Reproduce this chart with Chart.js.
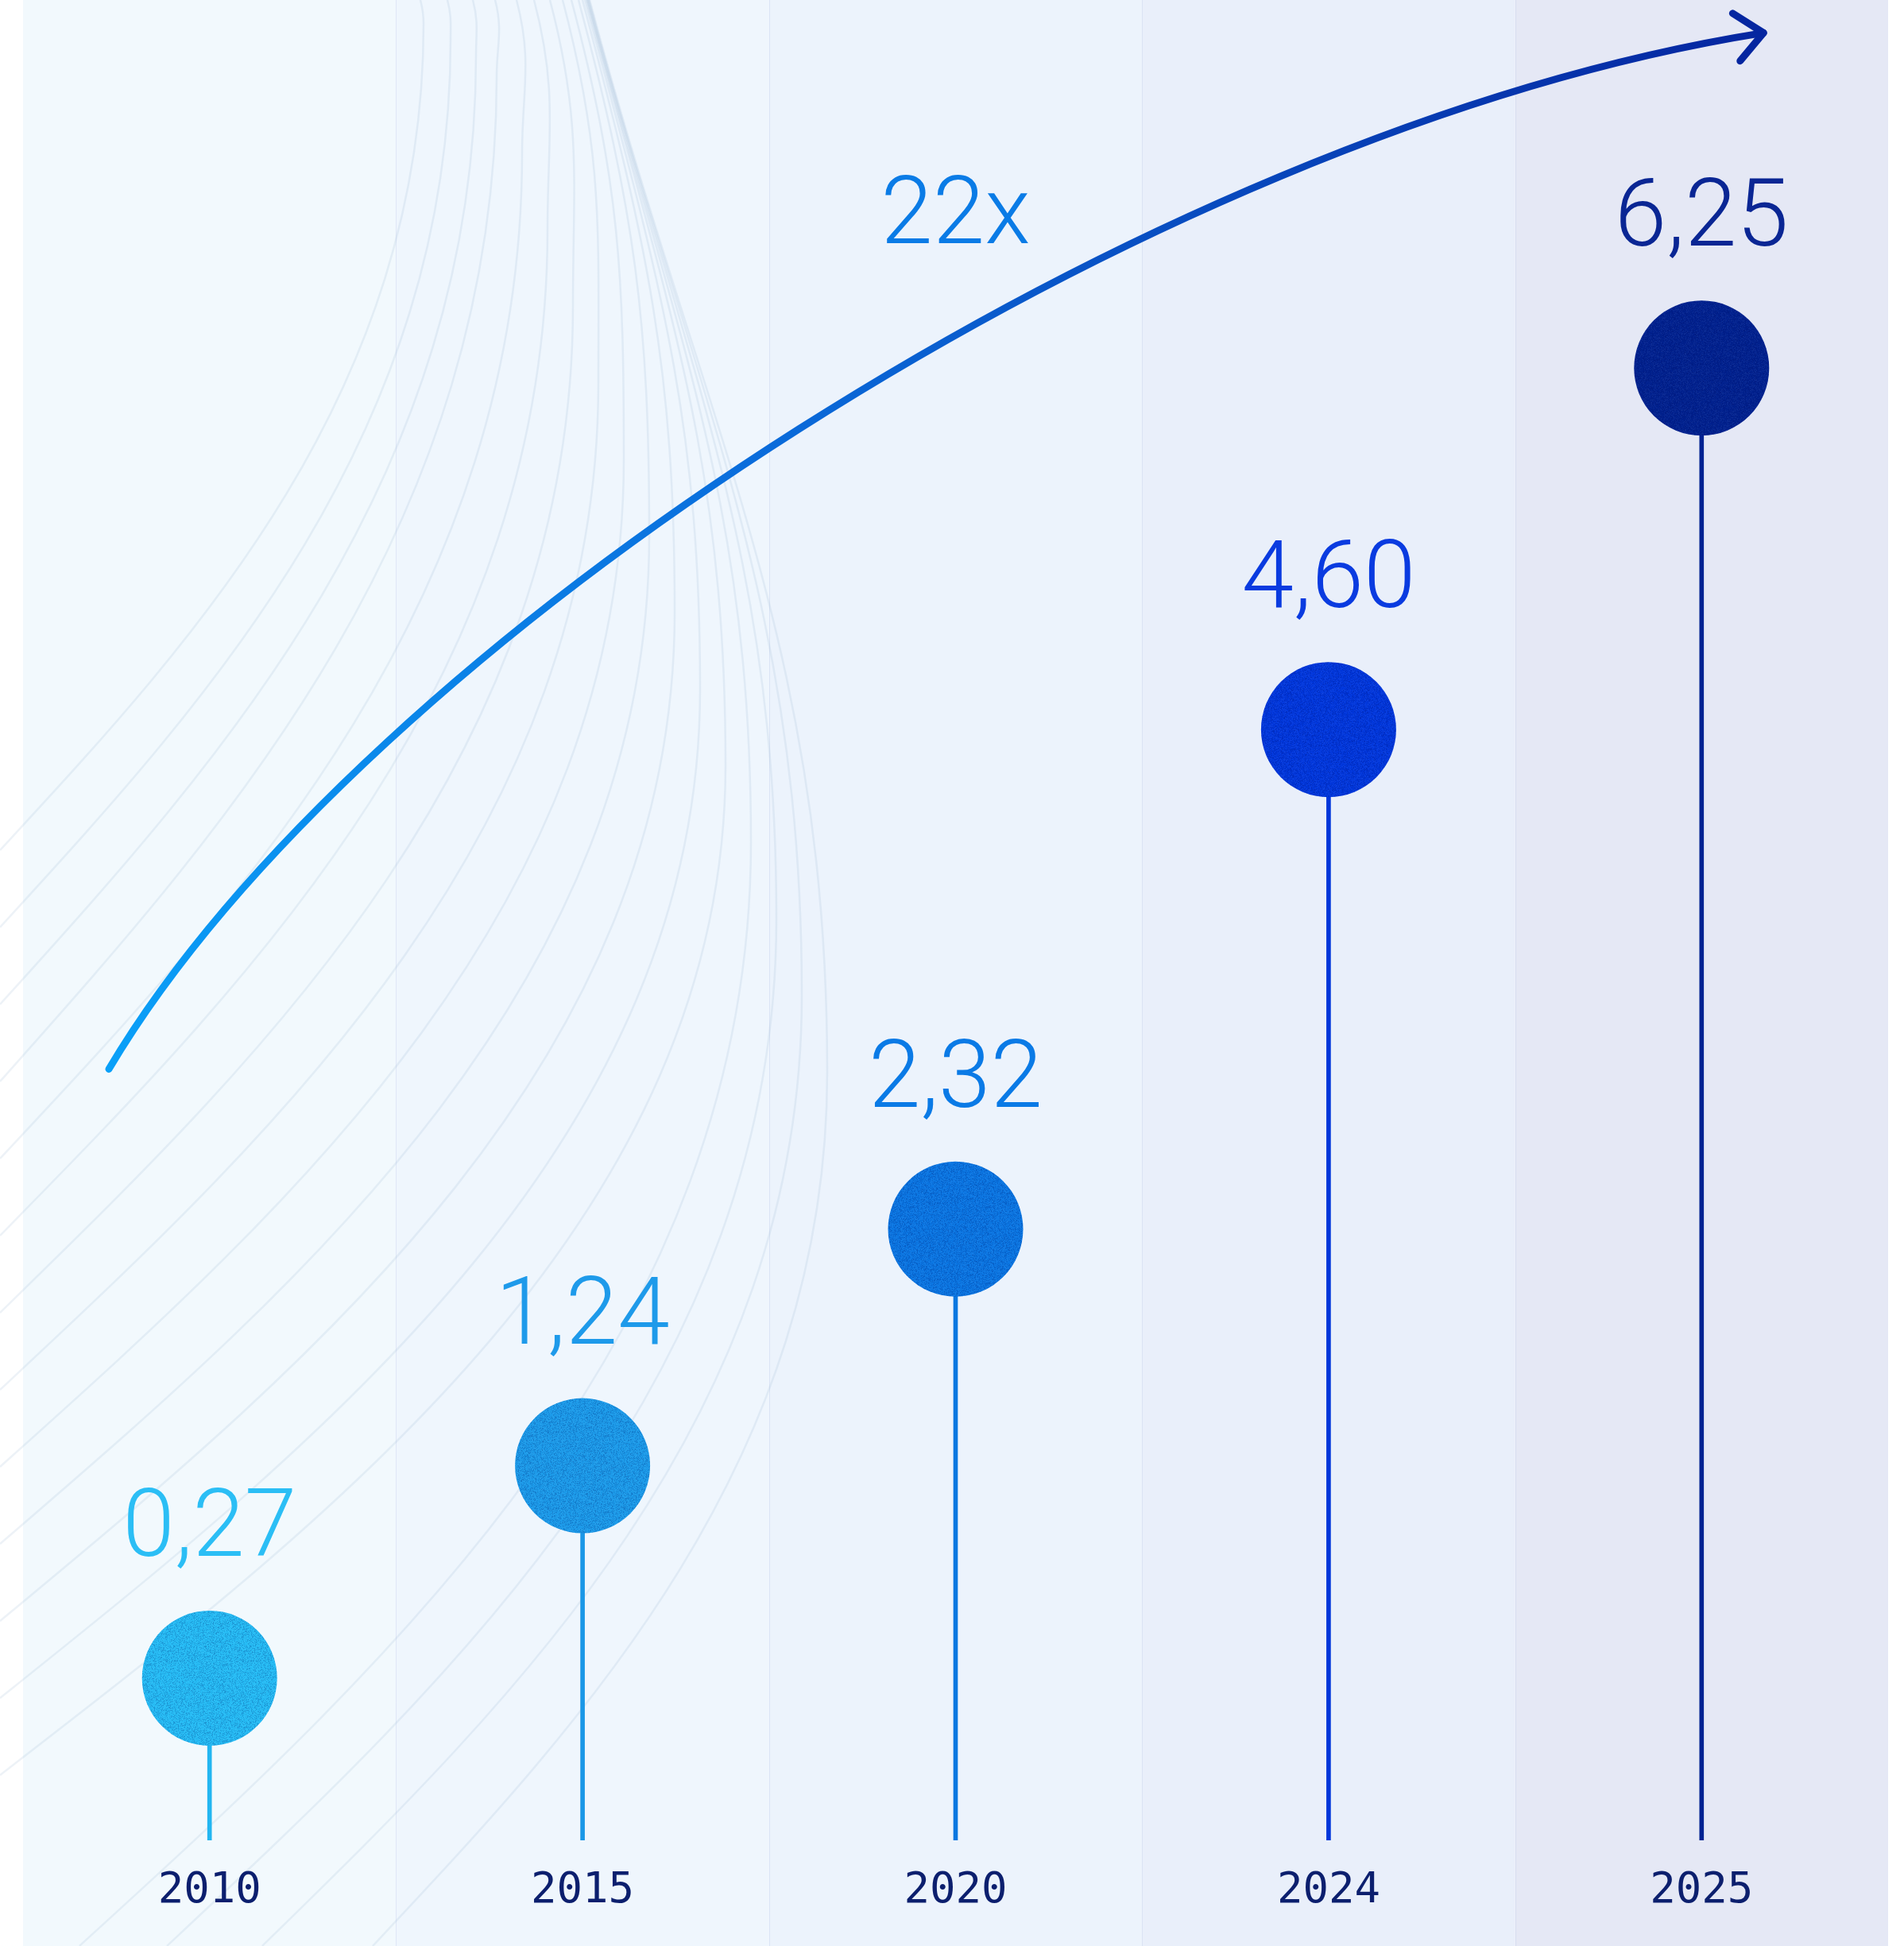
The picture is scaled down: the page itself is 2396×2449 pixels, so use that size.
<!DOCTYPE html>
<html>
<head>
<meta charset="utf-8">
<title>Growth 2010–2025</title>
<script src="https://cdn.jsdelivr.net/npm/chart.js@4.4.1/dist/chart.umd.min.js"></script>
<style>
  html, body { margin: 0; padding: 0; background: #ffffff; }
  canvas { display: block; }
</style>
</head>
<body>
<canvas id="myChart" width="2396" height="2449"></canvas>
<script>
const years = ["2010", "2015", "2020", "2024", "2025"];
const values = [0.27, 1.24, 2.32, 4.60, 6.25];

const dotColors = ["#25bcf5", "#1b9bea", "#0a76e3", "#0037dd", "#00218f"];
const stemColors = ["#22b6f1", "#1a97e7", "#0a77e0", "#0036da", "#002292"];
const labelColors = ["#2bbef5", "#1e9aea", "#0a7ae6", "#0a3be0", "#0a2694"];
const columnColors = ["#f2f9fd", "#eff6fd", "#ecf3fc", "#e9effa", "#e5e8f5"];

const yMin = -0.47;
const yMax = 7.93;

// growth arrow, in category index / value units
const growthText = "22x";
const growthAt = { x: 2, y: 6.82 };
const arrowFrom = { x: -0.27, y: 3.05 };
const arrowCtrl1 = { x: 0.403, y: 4.98 };
const arrowCtrl2 = { x: 2.512, y: 7.335 };
const arrowTo = { x: 4.166, y: 7.78 };

function formatValue(v) {
  return v.toFixed(2).replace(".", ",");
}

// speckle texture for the dots
function makeGrain() {
  const size = 96;
  const c = document.createElement("canvas");
  c.width = c.height = size;
  const g = c.getContext("2d");
  const img = g.createImageData(size, size);
  let seed = 12345;
  for (let i = 0; i < img.data.length; i += 4) {
    seed = (Math.imul(seed, 1664525) + 1013904223) >>> 0;
    const n = seed / 4294967296;
    if (n < 0.5) {
      img.data[i] = 0; img.data[i + 1] = 10; img.data[i + 2] = 90;
      img.data[i + 3] = Math.floor((0.5 - n) * 120);
    } else {
      img.data[i] = 255; img.data[i + 1] = 255; img.data[i + 2] = 255;
      img.data[i + 3] = Math.floor((n - 0.5) * 30);
    }
  }
  g.putImageData(img, 0, 0);
  return c;
}
const grain = makeGrain();

// faint fan of curves behind the columns
const fanTops = [529, 563, 595, 623, 650, 672, 692, 708, 719, 728, 733, 736, 738, 739, 740, 741, 742];
const fanBottomExits = [100, 210, 330, 469];

function drawFan(ctx, h) {
  ctx.save();
  ctx.strokeStyle = "rgba(140, 175, 205, 0.16)";
  ctx.lineWidth = 2.5;
  fanTops.forEach((tx, k) => {
    const m = k < 3 ? { x: tx + 4, y: 30 + 20 * k } : { x: 625 + 32 * (k - 3), y: 96 + 96.4 * (k - 3) };
    const e = k < 13 ? { x: 0, y: 1070 + 97 * k } : { x: fanBottomExits[k - 13], y: h };
    ctx.beginPath();
    ctx.moveTo(tx, 0);
    ctx.bezierCurveTo(tx + 0.265 * 0.4 * m.y, 0.4 * m.y, m.x, 0.6 * m.y, m.x, m.y);
    ctx.bezierCurveTo(m.x, m.y + 0.45 * (e.y - m.y), e.x + 0.45 * (m.x - e.x), e.y - 0.25 * (e.y - m.y), e.x, e.y);
    ctx.stroke();
  });
  ctx.restore();
}

const backdrop = {
  id: "backdrop",
  beforeDraw(chart) {
    const { ctx, scales: { x } } = chart;
    const h = chart.height;
    ctx.save();
    years.forEach((_, i) => {
      const left = x.getPixelForValue(i - 0.5);
      const right = x.getPixelForValue(i + 0.5);
      ctx.fillStyle = columnColors[i];
      ctx.fillRect(left, 0, right - left, h);
    });
    ctx.strokeStyle = "rgba(185, 200, 232, 0.35)";
    ctx.lineWidth = 1;
    for (let i = 1; i < years.length; i++) {
      const px = Math.round(x.getPixelForValue(i - 0.5)) + 0.5;
      ctx.beginPath();
      ctx.moveTo(px, 0);
      ctx.lineTo(px, h);
      ctx.stroke();
    }
    ctx.restore();
    drawFan(ctx, h);
  }
};

const annotations = {
  id: "annotations",
  afterDatasetsDraw(chart) {
    const { ctx, scales: { x, y } } = chart;
    const dots = chart.getDatasetMeta(0).data;

    dots.forEach((pt, i) => {
      const r = pt.options.radius;
      ctx.save();
      ctx.beginPath();
      ctx.arc(pt.x, pt.y, r, 0, Math.PI * 2);
      ctx.clip();
      ctx.fillStyle = ctx.createPattern(grain, "repeat");
      ctx.fillRect(pt.x - r, pt.y - r, 2 * r, 2 * r);
      ctx.restore();

      ctx.save();
      ctx.fillStyle = labelColors[i];
      ctx.font = "300 118px Roboto, 'Liberation Sans', sans-serif";
      ctx.textAlign = "center";
      ctx.textBaseline = "alphabetic";
      ctx.fillText(formatValue(values[i]), pt.x, pt.y - 154);
      ctx.restore();
    });

    const toPx = (p) => ({ x: x.getPixelForValue(p.x), y: y.getPixelForValue(p.y) });
    const p0 = toPx(arrowFrom);
    const c1 = toPx(arrowCtrl1);
    const c2 = toPx(arrowCtrl2);
    const p1 = toPx(arrowTo);

    ctx.save();
    const grad = ctx.createLinearGradient(p0.x, p0.y, p1.x, p1.y);
    grad.addColorStop(0, "#0aa0f8");
    grad.addColorStop(0.45, "#0a6cdb");
    grad.addColorStop(1, "#0526a0");
    ctx.strokeStyle = grad;
    ctx.lineWidth = 9;
    ctx.lineCap = "round";
    ctx.lineJoin = "round";
    ctx.beginPath();
    ctx.moveTo(p0.x, p0.y);
    ctx.bezierCurveTo(c1.x, c1.y, c2.x, c2.y, p1.x, p1.y);
    ctx.stroke();

    const ang = Math.atan2(p1.y - c2.y, p1.x - c2.x);
    const len = 46;
    const spread = 0.72;
    ctx.strokeStyle = "#0526a0";
    ctx.beginPath();
    ctx.moveTo(p1.x - len * Math.cos(ang - spread), p1.y - len * Math.sin(ang - spread));
    ctx.lineTo(p1.x, p1.y);
    ctx.lineTo(p1.x - len * Math.cos(ang + spread), p1.y - len * Math.sin(ang + spread));
    ctx.stroke();

    ctx.fillStyle = "#0a7be6";
    ctx.font = "300 118px Roboto, 'Liberation Sans', sans-serif";
    ctx.textAlign = "center";
    ctx.textBaseline = "alphabetic";
    ctx.fillText(growthText, x.getPixelForValue(growthAt.x), y.getPixelForValue(growthAt.y));
    ctx.restore();
  }
};

const data = {
  labels: years,
  datasets: [
    {
      type: "line",
      label: "dots",
      data: values,
      showLine: false,
      pointRadius: 85,
      pointHoverRadius: 85,
      pointBorderWidth: 0,
      pointBackgroundColor: dotColors,
      clip: false,
    },
    {
      type: "bar",
      label: "stems",
      data: values,
      base: yMin,
      barThickness: 5,
      backgroundColor: stemColors,
    },
  ],
};

const config = {
  type: "bar",
  data: data,
  plugins: [backdrop, annotations],
  options: {
    responsive: false,
    animation: false,
    layout: { autoPadding: false, padding: { left: 29, right: 20, top: 0, bottom: 0 } },
    plugins: {
      legend: { display: false },
      tooltip: { enabled: false },
    },
    scales: {
      x: {
        grid: { display: false, drawTicks: false },
        border: { display: false },
        ticks: {
          color: "#0c1f6e",
          font: { family: "'DejaVu Sans Mono', monospace", size: 54 },
          padding: 32,
          maxRotation: 0,
          autoSkip: false,
        },
        afterFit(scale) {
          scale.height = 133;
        },
      },
      y: {
        display: false,
        min: yMin,
        max: yMax,
      },
    },
  },
};

const myChart = new Chart(document.getElementById("myChart"), config);
</script>
</body>
</html>
